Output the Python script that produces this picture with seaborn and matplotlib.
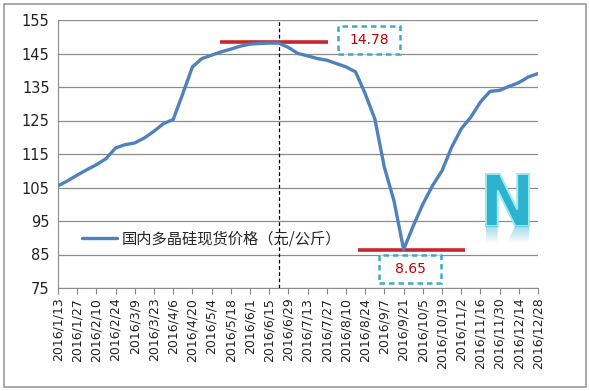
import numpy as np
import pandas as pd
import matplotlib
matplotlib.use("Agg")
import matplotlib.pyplot as plt
import matplotlib.patheffects as pe
import matplotlib.transforms as mtransforms
from matplotlib.textpath import TextPath
from matplotlib.patches import PathPatch, Rectangle
from matplotlib.font_manager import FontProperties
import seaborn as sns

# weekly spot price of polysilicon, 2016/1/13 .. 2016/12/28
dates = pd.date_range("2016-01-13", "2016-12-28", freq="7D")
price = [105.5, 107.0, 108.7, 110.3, 111.8, 113.6, 116.8, 117.8, 118.3, 119.8,
         121.8, 124.1, 125.3, 133.0, 141.0, 143.5, 144.5, 145.5, 146.3, 147.2,
         147.8, 148.0, 148.1, 148.1, 146.8, 145.0, 144.3, 143.5, 143.0, 142.0,
         141.0, 139.5, 133.0, 125.5, 111.0, 101.0, 86.5, 93.5, 100.0, 105.5,
         110.0, 117.0, 122.5, 126.0, 130.5, 133.7, 134.0, 135.2, 136.3, 138.0,
         139.0]
labels = [f"{d.year}/{d.month}/{d.day}" for d in dates]
series_name = "国内多晶硅现货价格（元/公斤）"
peak_text = "14.78"
low_text = "8.65"

df = pd.DataFrame({"idx": np.arange(len(price)), "price": price})

sns.set_style("white")
plt.rcParams["font.family"] = ["DejaVu Sans", "Noto Sans CJK SC"]

W, H = 590, 391
fig = plt.figure(figsize=(W / 100, H / 100), dpi=100)
ax = fig.add_axes([58 / W, 1 - 288 / H, 480 / W, 268 / H])

sns.lineplot(data=df, x="idx", y="price", ax=ax, color="#4F81BD", linewidth=2.4,
             label=series_name, zorder=4)

ax.set_xlim(0, len(price) - 1)
ax.set_ylim(75, 155)
ax.set_yticks(np.arange(75, 156, 10))
ax.set_xticks(df["idx"][::2])
ax.set_xticklabels(labels[::2], rotation=90, fontsize=9, color="#222222")
ax.tick_params(axis="y", labelsize=10.5, colors="#222222", length=0, pad=6)
ax.tick_params(axis="x", length=4, color="#888888", direction="out", pad=3,
               bottom=True)
ax.grid(axis="y", color="#8C8C8C", linewidth=0.9)
ax.set_xlabel("")
ax.set_ylabel("")
for s in ["top", "right"]:
    ax.spines[s].set_visible(False)
for s in ["left", "bottom"]:
    ax.spines[s].set_color("#8C8C8C")

# separation line at 6/22
ax.axvline(23, color="black", linestyle="--", linewidth=0.9, dashes=(3, 2))

# red lines for high and low
i_lo = int(np.argmin(price))
ax.hlines(max(price) + 0.4, 16.9, 28.1, color="#C8262D", linewidth=2.6, zorder=3)
ax.hlines(min(price) - 0.2, 31.2, 42.4, color="#C8262D", linewidth=2.6, zorder=3)

# dashed value boxes
def value_box(xc, yc, txt):
    bw, bh = 62 / 9.58, 28 / 3.35
    ax.add_patch(Rectangle((xc - bw / 2, yc - bh / 2), bw, bh, fc="white",
                           ec="#3EABC2", lw=1.8, linestyle=(0, (2.2, 1.6)),
                           zorder=5))
    ax.text(xc, yc, txt, color="#C00000", fontsize=10, ha="center",
            va="center", zorder=6)

value_box(32.4, 148.9, peak_text)
value_box(i_lo + 0.7, 80.7, low_text)

# "N" logo with a fading reflection
tp = TextPath((0, 0), "N", size=1,
              prop=FontProperties(family="DejaVu Sans", weight="bold"))
ext = tp.get_extents()
nl, nt, nw, nh = 486, 174, 43, 52
sx, sy = nw / W / ext.width, nh / H / ext.height
base = mtransforms.Affine2D().translate(-ext.x0, -ext.y0)
t_main = base + mtransforms.Affine2D().scale(sx, sy).translate(nl / W, 1 - (nt + nh) / H)
fig.add_artist(PathPatch(tp, transform=t_main + fig.transFigure, fc="#2DB2CE",
                         ec="#9BE8F5", lw=1.4, zorder=6))
t_ref = base + mtransforms.Affine2D().scale(sx, -sy).translate(nl / W, 1 - (nt + nh) / H)
for k in range(8):
    band = Rectangle((nl / W - 0.01, 1 - (nt + nh + 2 * (k + 1)) / H), (nw + 10) / W,
                     2 / H, transform=fig.transFigure)
    p = PathPatch(tp, transform=t_ref + fig.transFigure, fc="#2DB2CE",
                  ec="none", alpha=0.45 * (1 - k / 8), zorder=6)
    p.set_clip_path(band)
    fig.add_artist(p)

leg = ax.legend(loc="center left", bbox_to_anchor=(0.05, 0.183), frameon=False,
                handlelength=2.3, handletextpad=0.3, borderaxespad=0, borderpad=0,
                prop={"family": ["Noto Sans CJK SC", "DejaVu Sans"], "size": 11})

# outer border
fig.patches.append(Rectangle((4 / W, 4 / H), 582 / W, 383 / H,
                             transform=fig.transFigure, fill=False,
                             ec="#9A9A9A", lw=1.2))

fig.savefig("out.png", dpi=100)
